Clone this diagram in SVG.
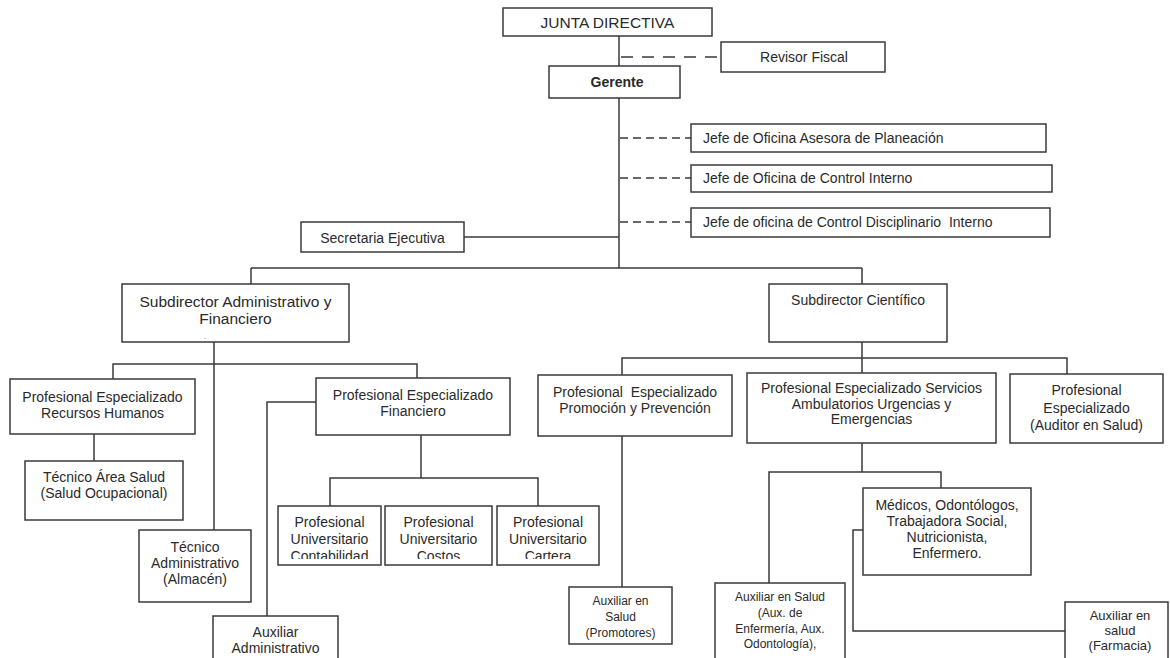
<svg xmlns="http://www.w3.org/2000/svg" width="1170" height="658" viewBox="0 0 1170 658">
<style>
.b{fill:#fff;stroke:#3a3a3a;stroke-width:1.5}
.c{fill:none;stroke:#3a3a3a;stroke-width:1.5}
.d{fill:none;stroke:#3a3a3a;stroke-width:1.5;stroke-dasharray:8 5}
.d2{fill:none;stroke:#3a3a3a;stroke-width:1.5;stroke-dasharray:12 9}
text{font-family:"Liberation Sans",Arial,sans-serif;fill:#2a2a2a;font-size:14px;text-anchor:middle;white-space:pre}
.s{font-size:12px}
.m{font-size:13px}
.l{text-anchor:start;font-size:14px}
.big{font-size:15.5px}
.jd{font-size:15.5px}
.dot{font-size:7px}
</style>
<defs>
<clipPath id="clipU"><rect x="270" y="500" width="340" height="59"/></clipPath>
</defs>
<rect width="1170" height="658" fill="#fff"/>
<g id="connectors">
<path class="c" d="M619,36V66M619,98V268M464,237H619M251,268H862M251,284V268M862,268V284"/>
<path class="d2" d="M621,57H721"/>
<path class="d" d="M620,138H691M620,178H691M620,222H691"/>
<path class="c" d="M214,342V530M113,379V364H417V378M94,434V461M316,402H267V616M421,435V478M330,506V478H538V506"/>
<path class="c" d="M862,342V373M622,375V358H1067V374M622,436V587M862,443V472M769,583V472H941V488M863,530H853V631H1065"/>
</g>
<g id="junta"><rect class="b" x="503" y="8" width="209" height="28"/><text class="jd" x="607.5" y="28">JUNTA DIRECTIVA</text></g>
<g id="revisor"><rect class="b" x="721" y="42" width="164" height="30"/><text x="804" y="62">Revisor Fiscal</text></g>
<g id="gerente"><rect class="b" x="549" y="66" width="131" height="32"/><text x="617" y="87" font-weight="bold">Gerente</text></g>
<g id="jefe1"><rect class="b" x="691" y="124" width="355" height="28"/><text class="l" x="703" y="143">Jefe de Oficina Asesora de Planeación</text></g>
<g id="jefe2"><rect class="b" x="691" y="165" width="361" height="27"/><text class="l" x="703" y="183">Jefe de Oficina de Control Interno</text></g>
<g id="jefe3"><rect class="b" x="691" y="208" width="359" height="29"/><text class="l" x="703" y="227">Jefe de oficina de Control Disciplinario  Interno</text></g>
<g id="secretaria"><rect class="b" x="301" y="222" width="163" height="30"/><text x="382.5" y="243">Secretaria Ejecutiva</text></g>
<g id="subadm"><rect class="b" x="122" y="284" width="227" height="58"/><text class="big" x="235.5" y="307">Subdirector Administrativo y</text><text class="big" x="235.5" y="324">Financiero</text><text class="dot" x="205" y="339">.</text></g>
<g id="subcient"><rect class="b" x="769" y="284" width="178" height="58"/><text x="858" y="305">Subdirector Científico</text></g>
<g id="rrhh"><rect class="b" x="10" y="379" width="185" height="55"/><text x="102.5" y="402">Profesional Especializado</text><text x="102.5" y="418">Recursos Humanos</text></g>
<g id="financiero"><rect class="b" x="316" y="378" width="194" height="57"/><text x="413" y="400">Profesional Especializado</text><text x="413" y="416">Financiero</text></g>
<g id="tecsalud"><rect class="b" x="25" y="461" width="158" height="59"/><text x="104" y="482">Técnico Área Salud</text><text x="104" y="498">(Salud Ocupacional)</text></g>
<g id="tecadm"><rect class="b" x="139" y="530" width="112" height="72"/><text x="195" y="552">Técnico</text><text x="195" y="568">Administrativo</text><text x="195" y="584">(Almacén)</text></g>
<g id="auxadm"><rect class="b" x="213" y="616" width="125" height="60"/><text x="275.5" y="637">Auxiliar</text><text x="275.5" y="653">Administrativo</text></g>
<g id="contab"><rect class="b" x="278" y="506" width="103" height="59"/><g clip-path="url(#clipU)"><text x="329.5" y="527">Profesional</text><text x="329.5" y="544">Universitario</text><text x="329.5" y="561">Contabilidad</text></g></g>
<g id="costos"><rect class="b" x="385" y="506" width="107" height="59"/><g clip-path="url(#clipU)"><text x="438.5" y="527">Profesional</text><text x="438.5" y="544">Universitario</text><text x="438.5" y="561">Costos</text></g></g>
<g id="cartera"><rect class="b" x="497" y="506" width="102" height="59"/><g clip-path="url(#clipU)"><text x="548" y="527">Profesional</text><text x="548" y="544">Universitario</text><text x="548" y="561">Cartera</text></g></g>
<g id="promocion"><rect class="b" x="538" y="375" width="194" height="61"/><text x="635" y="397">Profesional  Especializado</text><text x="635" y="413">Promoción y Prevención</text></g>
<g id="servicios"><rect class="b" x="747" y="373" width="249" height="70"/><text x="871.5" y="393">Profesional Especializado Servicios</text><text x="871.5" y="409">Ambulatorios Urgencias y</text><text x="871.5" y="424">Emergencias</text></g>
<g id="auditor"><rect class="b" x="1010" y="374" width="153" height="69"/><text x="1086.5" y="395">Profesional</text><text x="1086.5" y="413">Especializado</text><text x="1086.5" y="430">(Auditor en Salud)</text></g>
<g id="promotores"><rect class="b" x="569" y="587" width="103" height="57"/><text class="s" x="620.5" y="605">Auxiliar en</text><text class="s" x="620.5" y="621">Salud</text><text class="s" x="620.5" y="637">(Promotores)</text></g>
<g id="auxsalud"><rect class="b" x="715" y="583" width="130" height="90"/><text class="s" x="780" y="601">Auxiliar en Salud</text><text class="s" x="780" y="617">(Aux. de</text><text class="s" x="780" y="633">Enfermería, Aux.</text><text class="s" x="780" y="648">Odontología),</text></g>
<g id="medicos"><rect class="b" x="863" y="488" width="168" height="87"/><text x="947" y="510">Médicos, Odontólogos,</text><text x="947" y="526">Trabajadora Social,</text><text x="947" y="542">Nutricionista,</text><text x="947" y="558">Enfermero.</text></g>
<g id="farmacia"><rect class="b" x="1065" y="602" width="103" height="70"/><text class="m" x="1120" y="620">Auxiliar en</text><text class="m" x="1120" y="635">salud</text><text class="m" x="1120" y="650">(Farmacia)</text></g>
</svg>
